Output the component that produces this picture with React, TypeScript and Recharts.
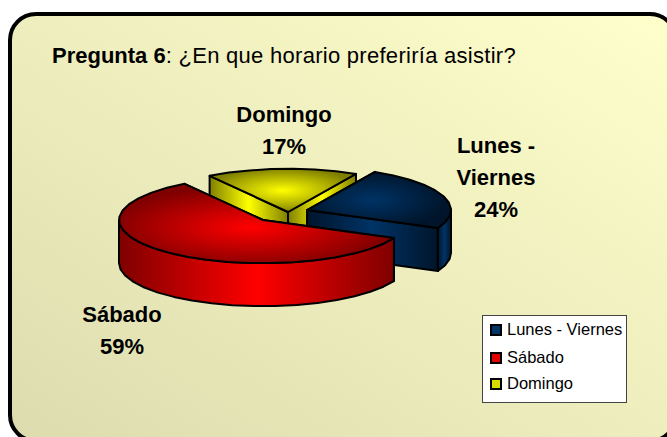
import React from "react"
import { PieChart, Pie, Legend } from "recharts"

// drawn clockwise from the back so the red slice ends up on top
const categories = ["Domingo", "Lunes - Viernes", "Sábado"]
const values = [17, 24, 59]
const legendOrder = ["Lunes - Viernes", "Sábado", "Domingo"]

const data = categories.map((name, i) => ({ name, value: values[i] }))

const WIDTH = 667
const HEIGHT = 437
const CX = 285
const CY = 213
const RADIUS = 144
const SQUASH = 0.3
const DEPTH = 43
const RAD = Math.PI / 180

const looks: Record<string, any> = {
	Domingo: { bright: "#ffff00", dark: "#7f7f00", swatch: "#d8d800", dx: 3, dy: -1, fx: "50%", fy: "50%" },
	"Lunes - Viernes": { bright: "#003366", dark: "#00152b", swatch: "#003366", dx: 22, dy: -3, fx: "45%", fy: "50%" },
	Sábado: { bright: "#ff0000", dark: "#7f0000", swatch: "#e00000", dx: -22, dy: 7, fx: "48%", fy: "55%" },
}

const labelSpots: Record<string, any> = {
	Domingo: { x: 284, y: 122, lines: ["Domingo"] },
	"Lunes - Viernes": { x: 496, y: 153, lines: ["Lunes -", "Viernes"] },
	Sábado: { x: 122, y: 322, lines: ["Sábado"] },
}

const Slice = (props: any) => {
	const { cx, cy, outerRadius, startAngle, endAngle, name, payload } = props
	const key = payload?.name ?? name
	const look = looks[key]
	const id = categories.indexOf(key)
	const ox = cx + look.dx
	const oy = cy + look.dy
	const point = (deg: number, drop = 0) => [
		ox + outerRadius * Math.cos(deg * RAD),
		oy - outerRadius * SQUASH * Math.sin(deg * RAD) + drop,
	]
	const hi = Math.max(startAngle, endAngle)
	const lo = Math.min(startAngle, endAngle)
	const arc = (from: number, to: number, drop = 0) => {
		const pts = []
		const steps = Math.max(1, Math.ceil(Math.abs(to - from) / 9))
		for (let i = 0; i <= steps; i++) pts.push(point(from + ((to - from) * i) / steps, drop))
		return pts
	}
	const toPath = (pts: number[][]) => "M" + pts.map((p) => p[0].toFixed(1) + " " + p[1].toFixed(1)).join("L") + "Z"
	const face = (deg: number) =>
		toPath([[ox, oy], point(deg), point(deg, DEPTH), [ox, oy + DEPTH]])

	// outer wall only where the rim faces the viewer (sin < 0)
	const walls = []
	for (const k of [-2, -1, 0]) {
		const a = Math.max(lo, 180 + 360 * k)
		const b = Math.min(hi, 360 + 360 * k)
		if (a < b) walls.push(toPath([...arc(a, b), ...arc(b, a, DEPTH)]))
	}
	const faces = [hi, lo].sort((m, n) => Math.sin(n * RAD) - Math.sin(m * RAD))

	return (
		<g stroke="#000" strokeWidth={2} strokeLinejoin="round">
			<defs>
				<radialGradient id={`top${id}`} cx={look.fx} cy={look.fy} r="52%">
					<stop offset="0%" stopColor={look.bright} />
					<stop offset="100%" stopColor={look.dark} />
				</radialGradient>
				<linearGradient id={`wall${id}`} x1="0" y1="0" x2="1" y2="0">
					<stop offset="0%" stopColor={look.dark} />
					<stop offset="50%" stopColor={look.bright} />
					<stop offset="100%" stopColor={look.dark} />
				</linearGradient>
			</defs>
			{faces.map((deg) => (
				<path key={deg} d={face(deg)} fill={`url(#wall${id})`} />
			))}
			{walls.map((d) => (
				<path key={d} d={d} fill={`url(#wall${id})`} />
			))}
			<path d={toPath([[ox, oy], ...arc(hi, lo)])} fill={`url(#top${id})`} />
		</g>
	)
}

const SliceLabel = (props: any) => {
	const { percent, name, payload } = props
	const key = payload?.name ?? name
	const spot = labelSpots[key]
	return (
		<text x={spot.x} y={spot.y} textAnchor="middle" fontFamily="Liberation Sans" fontSize={22} fontWeight="bold" fill="#000">
			{spot.lines.map((line: string, i: number) => (
				<tspan key={line} x={spot.x} dy={i === 0 ? 0 : 32}>
					{line}
				</tspan>
			))}
			<tspan x={spot.x} dy={32}>
				{Math.round(percent * 100)}%
			</tspan>
		</text>
	)
}

const LegendBox = () => (
	<div
		style={{
			width: 145,
			height: 88,
			boxSizing: "border-box",
			background: "#fff",
			border: "1px solid #444",
			fontFamily: "Liberation Sans",
			fontSize: 16.5,
			color: "#000",
			position: "relative",
		}}>
		{legendOrder.map((name, i) => (
			<div key={name} style={{ position: "absolute", left: 7, top: [3, 31, 57][i], height: 20, lineHeight: "20px", whiteSpace: "nowrap" }}>
				<span
					style={{
						display: "inline-block",
						width: 8,
						height: 8,
						border: "2px solid #000",
						background: looks[name].swatch,
						marginRight: 5,
						verticalAlign: -1,
					}}
				/>
				{name}
			</div>
		))}
	</div>
)

export default function App() {
	return (
		<div style={{ position: "absolute", left: 0, top: 0, width: WIDTH, height: HEIGHT, overflow: "hidden", background: "#fff" }}>
			<div
				style={{
					position: "absolute",
					left: 8,
					top: 12,
					width: 670,
					height: 431,
					boxSizing: "border-box",
					border: "4px solid #000",
					borderRadius: 28,
					background: "linear-gradient(to bottom left, #ffffcc 0%, #dcdcaf 100%)",
				}}
			/>
			<div
				style={{
					position: "absolute",
					left: 52,
					top: 44,
					fontFamily: "Liberation Sans",
					fontSize: 22,
					lineHeight: "24px",
					color: "#000",
					whiteSpace: "nowrap",
				}}>
				<b>Pregunta 6</b>
				<span style={{ letterSpacing: 0.28 }}>: ¿En que horario preferiría asistir?</span>
			</div>
			<div style={{ position: "absolute", left: 0, top: 0 }}>
				<PieChart width={WIDTH} height={HEIGHT} margin={{ top: 0, right: 0, bottom: 0, left: 0 }}>
					<Pie
						data={data}
						dataKey="value"
						nameKey="name"
						cx={CX}
						cy={CY}
						outerRadius={RADIUS}
						startAngle={123}
						endAngle={-237}
						paddingAngle={0}
						stroke="#000"
						shape={<Slice />}
						label={<SliceLabel />}
						labelLine={false}
						isAnimationActive={false}
					/>
					<Legend content={<LegendBox />} wrapperStyle={{ position: "absolute", left: 482, top: 315, width: 145, height: 88, bottom: "auto" }} />
				</PieChart>
			</div>
		</div>
	)
}
